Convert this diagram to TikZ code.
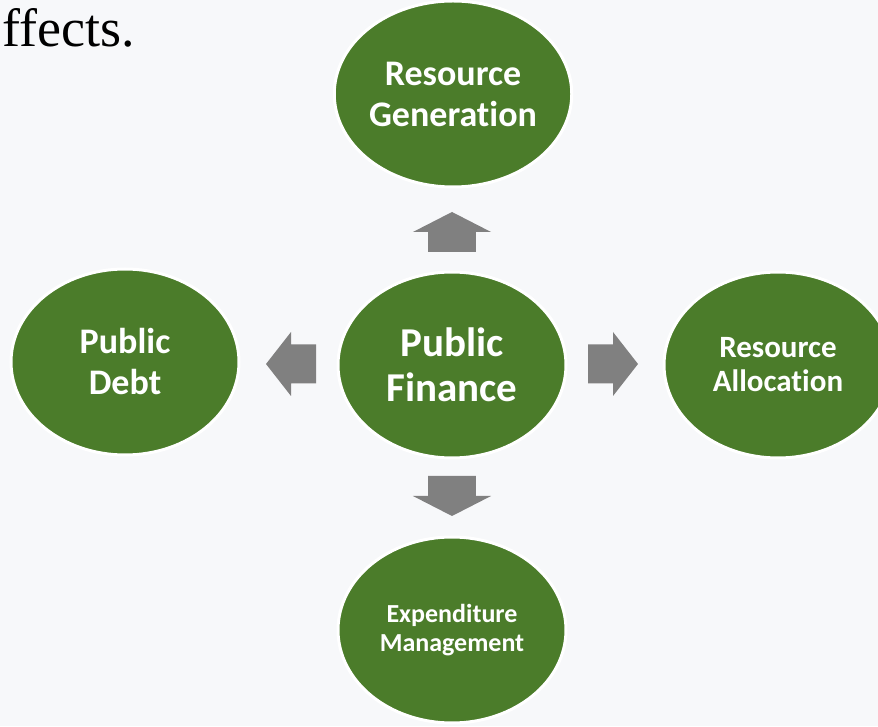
\documentclass[tikz,border=0pt]{standalone}
\usepackage{fontspec}
\setmainfont{Liberation Serif}
\setsansfont{Carlito}[Ligatures={NoCommon}]
\usepackage{tikz}
\usetikzlibrary{shapes.geometric}
\definecolor{leafgreen}{RGB}{75,124,42}
\definecolor{arrowgray}{RGB}{128,128,128}
\definecolor{pagebg}{RGB}{247,248,250}
\tikzset{
  bubble/.style={ellipse, fill=leafgreen, draw=white, line width=3pt,
    minimum width=228pt, minimum height=186pt, inner sep=0pt,
    text=white, align=center},
  bigfont/.style={font=\sffamily\bfseries\fontsize{41}{45}\selectfont},
  midfont/.style={font=\sffamily\bfseries\fontsize{36}{41}\selectfont},
  smallfont/.style={font=\sffamily\bfseries\fontsize{31}{34}\selectfont},
  tinyfont/.style={font=\sffamily\bfseries\fontsize{26}{29}\selectfont}
}
\tikzset{
  blockarrow/.pic={
    \fill[arrowgray] (0,-19.5) -- (25,-19.5) -- (25,-32) -- (50,0)
      -- (25,32) -- (25,19.5) -- (0,19.5) -- cycle;
  }
}
\begin{document}
\begin{tikzpicture}[x=1pt, y=1pt]
    \clip (0,0) rectangle (878,726);
    \fill[pagebg] (0,0) rectangle (878,726);

    \node[anchor=base west, inner sep=0pt, font=\fontsize{54}{60}\selectfont] (ffects) at (2,679) {ffects.};

    % the five bubbles
    \node[bubble, bigfont] (finance) at (452,361) {Public\\Finance};
    \node[bubble, midfont] (generation) at (453,632) {Resource\\Generation};
    \node[bubble, midfont] (debt) at (125,364) {Public\\Debt};
    \node[bubble, smallfont] (allocation) at (778,361) {Resource\\Allocation};
    \node[bubble, tinyfont] (expenditure) at (452,96) {Expenditure\\Management};

    % block arrows
    \pic[rotate=90, xscale=0.8, yscale=1.22] at (452,474) {blockarrow};
    \pic[rotate=-90, xscale=0.8, yscale=1.22] at (452,250) {blockarrow};
    \pic at (588,362) {blockarrow};
    \pic[rotate=180] at (316,362) {blockarrow};
  \end{tikzpicture}
\end{document}
